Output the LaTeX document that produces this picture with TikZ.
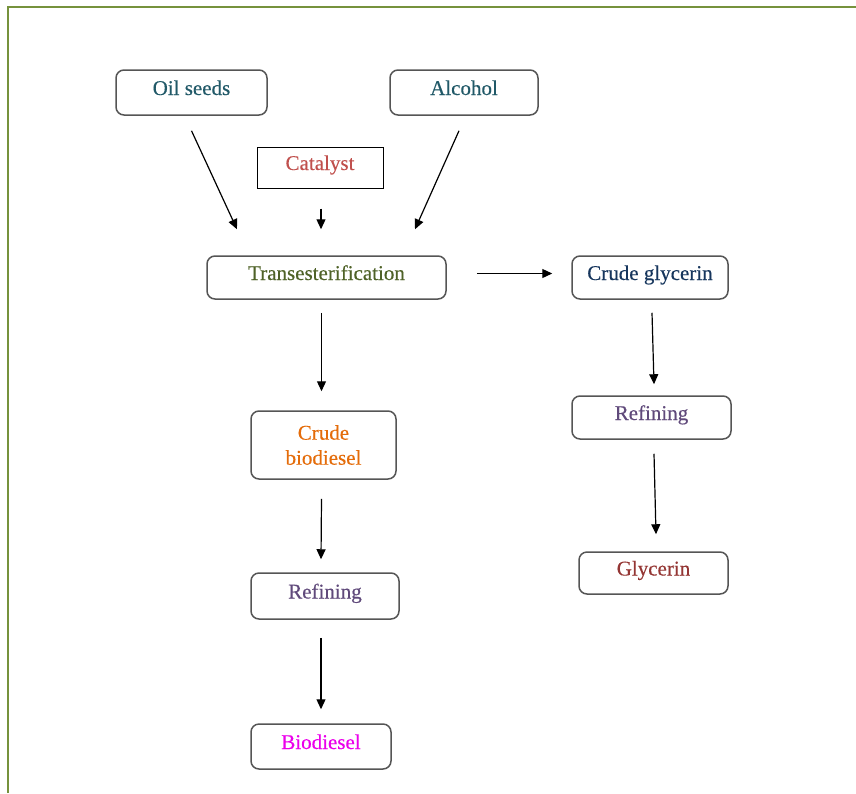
\documentclass[tikz,border=0pt]{standalone}
\usepackage{fontspec}
\setmainfont{Liberation Serif}[FakeBold=0.35]
\usetikzlibrary{arrows.meta,calc}

\definecolor{framegreen}{RGB}{118,146,60}
\definecolor{boxgray}{RGB}{85,85,85}
\definecolor{feedblue}{RGB}{33,89,104}
\definecolor{catred}{RGB}{192,80,77}
\definecolor{olivetext}{RGB}{79,98,40}
\definecolor{navytext}{RGB}{23,54,93}
\definecolor{orangetext}{RGB}{228,108,10}
\definecolor{purpletext}{RGB}{96,74,123}
\definecolor{darkred}{RGB}{148,54,52}
\definecolor{pinktext}{RGB}{235,0,235}

\begin{document}
\begin{tikzpicture}[
	x=0.5pt,
	y=-0.5pt,
	font=\fontsize{10.5}{12.5}\selectfont,
	box/.style={draw=boxgray,line width=0.75pt,rounded corners=4pt,align=center,
		inner sep=0pt,text height=0.7em,text depth=0.45em},
	catbox/.style={draw,line width=0.5pt,align=center,
		inner sep=0pt,text height=0.7em,text depth=0.45em},
	arr/.style={-{Triangle[length=5pt,width=4.5pt]},line width=0.6pt}
	]
	\useasboundingbox (0,0) rectangle (856,793);
	\draw[framegreen,line width=1pt] (8,793) -- (8,7) -- (856,7);

	% feed stocks
	\node[box,minimum width=75.5pt,minimum height=22.5pt,text=feedblue] (oil) at (191.5,92.5) {Oil seeds};
	\node[box,minimum width=74pt,minimum height=22.5pt,text=feedblue] (alc) at (464,92.5) {Alcohol};
	\node[catbox,minimum width=63pt,minimum height=20.5pt,text=catred] (cat) at (320,167.5) {Catalyst};

	% reaction
	\node[box,minimum width=119.5pt,minimum height=21.5pt,text=olivetext] (trans) at (326.5,277.5) {Transesterification};

	% biodiesel line
	\node[box,minimum width=72.5pt,minimum height=34pt,text=orangetext,
		text height={},text depth={}] (crude) at (323.5,445) {Crude\\biodiesel};
	\node[box,minimum width=74pt,minimum height=23pt,text=purpletext] (refL) at (325,596) {Refining};
	\node[box,minimum width=70pt,minimum height=22.5pt,text=pinktext] (bio) at (321,746.5) {Biodiesel};

	% glycerin line
	\node[box,minimum width=78pt,minimum height=21.5pt,text=navytext] (glyc) at (650,277.5) {Crude glycerin};
	\node[box,minimum width=79.5pt,minimum height=21.5pt,text=purpletext] (refR) at (651.5,417.5) {Refining};
	\node[box,minimum width=74.5pt,minimum height=21pt,text=darkred] (gly) at (653.5,573) {Glycerin};

	\draw[arr] ($(oil.south)+(0,15)$) -- ($(trans.north)+(-89.5,-26)$);
	\draw[arr] ($(alc.south)+(-5,15)$) -- ($(trans.north)+(88.5,-26)$);
	\draw[arr] ($(cat.south)+(1,20)$) -- ($(cat.south |- trans.north)+(1,-26)$);
	\draw[arr] ($(trans.east)+(30,-4)$) -- ($(glyc.west)+(-19,-4)$);
	\draw[arr] ($(trans.south)+(-5,13)$) -- ($(crude.north)+(-2,-19)$);
	\draw[arr] ($(crude.south)+(-2,19)$) -- ($(refL.north)+(-4,-13)$);
	\draw[arr] ($(refL.south)+(-4,18)$) -- ($(bio.north)+(0,-14)$);
	\draw[arr] ($(glyc.south)+(2,13)$) -- ($(refR.north)+(2.5,-11)$);
	\draw[arr] ($(refR.south)+(2.5,14)$) -- ($(gly.north)+(2.5,-17)$);
\end{tikzpicture}
\end{document}
